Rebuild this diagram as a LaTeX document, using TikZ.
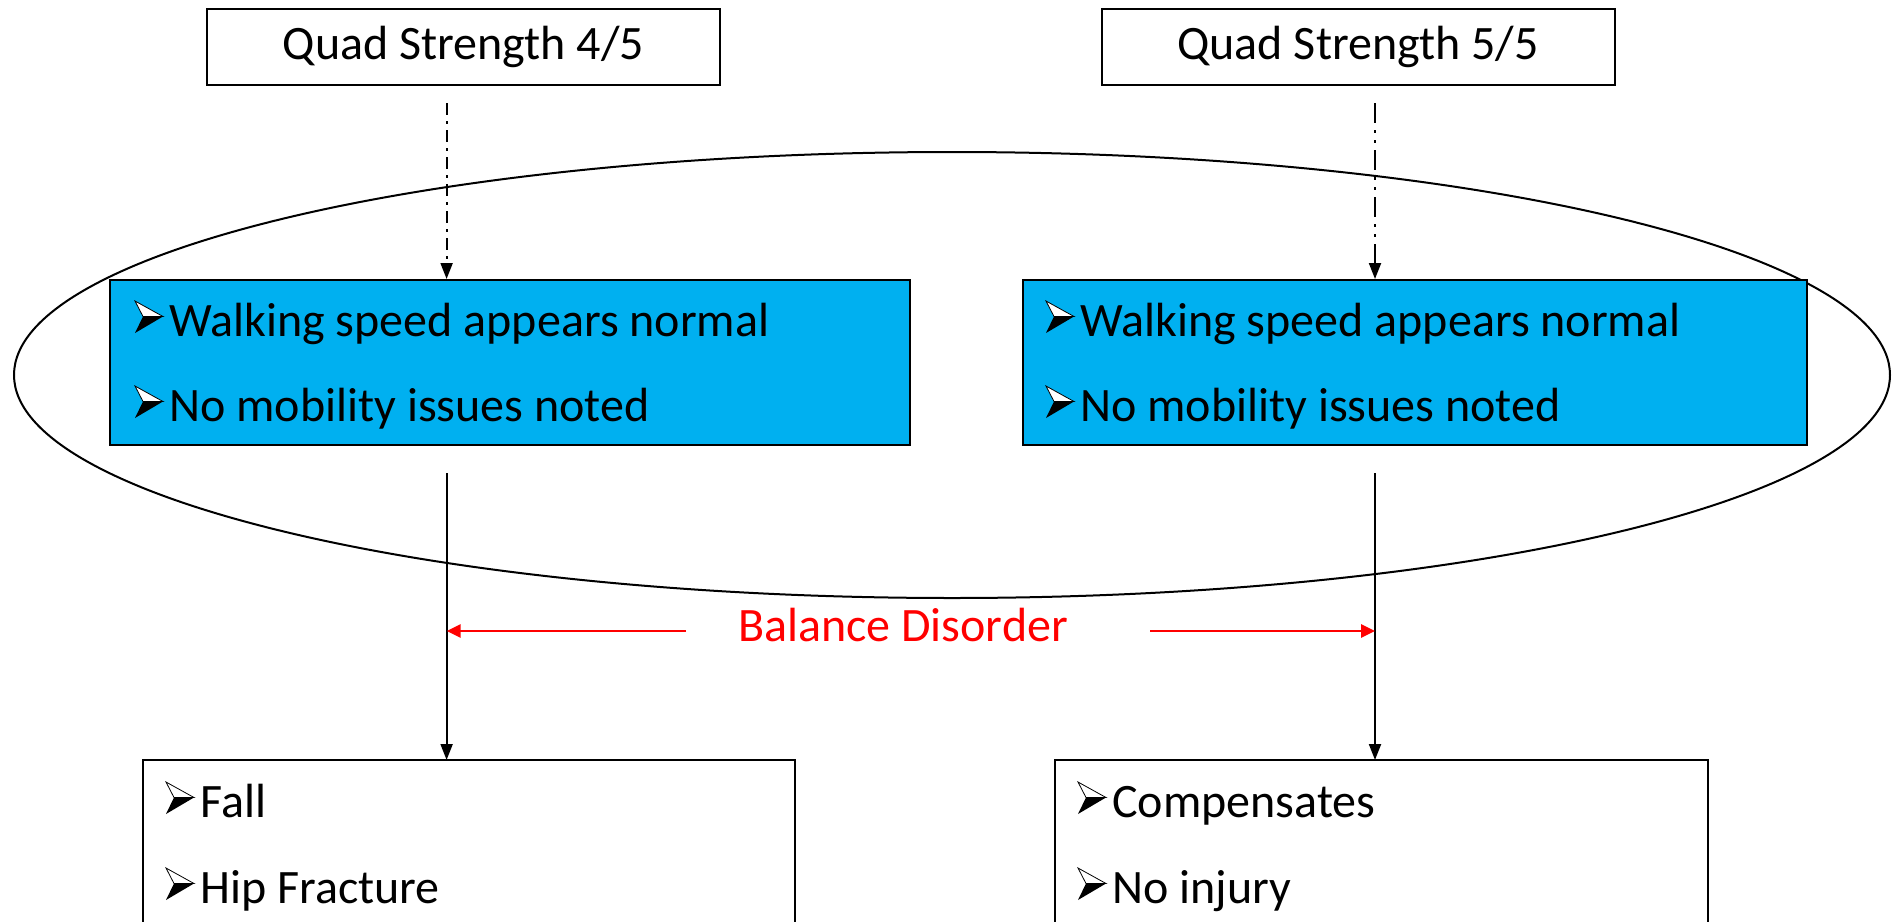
\documentclass[tikz,border=0pt]{standalone}
\usepackage{fontspec}
\setmainfont{Carlito}
\usetikzlibrary{arrows.meta,shapes.geometric}
\definecolor{boxblue}{HTML}{00B0F0}

\tikzset{
  txt/.style={font=\fontsize{24}{29}\selectfont, inner sep=0pt, anchor=base west},
  headbox/.style={draw=black, line width=1pt, fill=white, minimum width=256.5pt,
    minimum height=38.25pt, inner sep=0pt, font=\fontsize{24}{29}\selectfont},
  bluebox/.style={draw=black, line width=1pt, fill=boxblue, minimum height=82.5pt, inner sep=0pt},
  outbox/.style={draw=black, line width=1pt, fill=white, inner sep=0pt},
  flow/.style={line width=1pt, -{Triangle[length=8pt,width=6pt]}},
  dashdot/.style={dash pattern=on 6pt off 3pt on 1.5pt off 3pt},
  dashdotdot/.style={dash pattern=on 10pt off 3.5pt on 1.5pt off 3.5pt on 1.5pt off 3.5pt},
  redarrow/.style={draw=red, line width=1.3pt, -{Triangle[length=7pt,width=6.5pt]}},
  % 3-D arrowhead bullet, origin on the text baseline
  pointer/.pic={
    \filldraw[fill=white, draw=black, line width=0.4pt, line join=miter]
      (3,-35) -- (31,-19.5) -- (11,-19.5) -- cycle;
    \fill[black] (11,-19.5) -- (31,-19.5) -- (3,-3) -- cycle;
  }
}

\begin{document}
\begin{tikzpicture}[x=0.5pt,y=-0.5pt]
  \useasboundingbox (0,0) rectangle (1903,922);
  \clip (0,0) rectangle (1903,922);

  % top strength boxes
  \node[headbox] (qL) at (463.5,46.75) {Quad Strength 4/5};
  \node[headbox] (qR) at (1358,46.75) {Quad Strength 5/5};

  % the grouping oval
  \node[ellipse, draw=black, line width=1pt, minimum width=938pt, minimum height=223pt,
        inner sep=0pt] (oval) at (952,375) {};

  % blue observation boxes
  \node[bluebox, minimum width=400pt] (bL) at (510,362.5) {};
  \node[bluebox, minimum width=392pt] (bR) at (1415,362.5) {};
  \pic at (132,336) {pointer};
  \pic at (132,421) {pointer};
  \pic at (1043,336) {pointer};
  \pic at (1043,421) {pointer};
  \node[txt] (bL1) at (169,336) {Walking speed appears normal};
  \node[txt] (bL2) at (169,421) {No mobility issues noted};
  \node[txt] (bR1) at (1080,336) {Walking speed appears normal};
  \node[txt] (bR2) at (1080,421) {No mobility issues noted};

  % outcome boxes (run past the lower edge)
  \draw[outbox] (143,760) rectangle (795,960);
  \draw[outbox] (1055,760) rectangle (1708,960);
  \coordinate (oL) at (446.6,760);
  \coordinate (oR) at (1375,760);
  \pic at (163,817) {pointer};
  \pic at (163,903) {pointer};
  \pic at (1075,817) {pointer};
  \pic at (1075,903) {pointer};
  \node[txt] (oL1) at (200,817) {Fall};
  \node[txt] (oL2) at (200,903) {Hip Fracture};
  \node[txt] (oR1) at (1112,817) {Compensates};
  \node[txt] (oR2) at (1112,903) {No injury};

  % dash-dot links from the strength boxes
  \coordinate (dL) at (446.6,103);
  \coordinate (dR) at (1375,103);
  \draw[flow, dashdot] (dL) -- (dL |- bL.north);
  \draw[flow, dashdotdot] (dR) -- (dR |- bR.north);

  % solid links down to the outcomes
  \coordinate (sL) at (446.6,473);
  \coordinate (sR) at (1375,473);
  \draw[flow] (sL) -- (oL);
  \draw[flow] (sR) -- (oR);

  % balance disorder label with its arrows
  \node[font=\fontsize{24}{29}\selectfont, text=red, inner sep=0pt, anchor=base] (bal) at (903,641) {Balance Disorder};
  \coordinate (rL) at (686,631);
  \coordinate (rR) at (1150,631);
  \draw[redarrow] (rL) -- (sL |- rL);
  \draw[redarrow] (rR) -- (sR |- rR);
\end{tikzpicture}
\end{document}
